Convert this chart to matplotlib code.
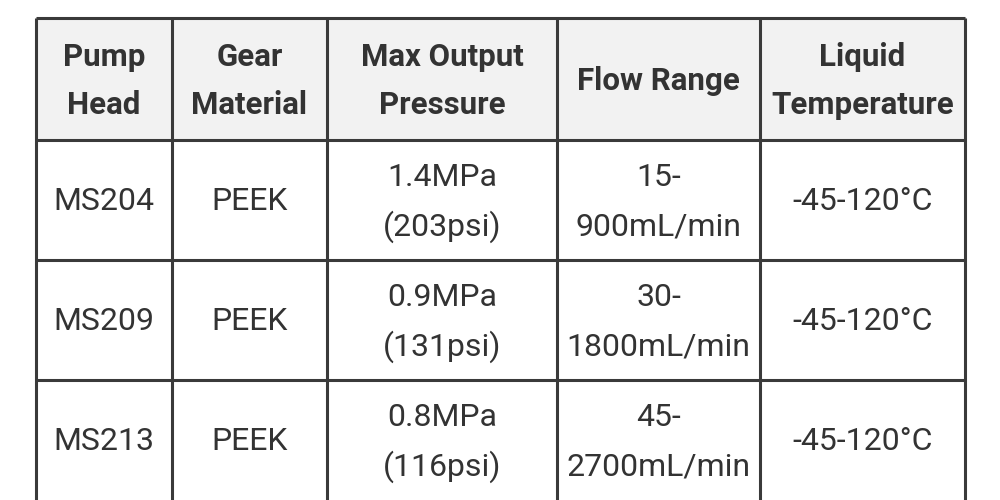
import matplotlib
matplotlib.use("Agg")
import matplotlib.pyplot as plt

headers = [["Pump", "Head"], ["Gear", "Material"], ["Max Output", "Pressure"],
           ["Flow Range"], ["Liquid", "Temperature"]]
pump_heads = ["MS204", "MS209", "MS213"]
gear_material = ["PEEK", "PEEK", "PEEK"]
pressure = [["1.4MPa", "(203psi)"], ["0.9MPa", "(131psi)"], ["0.8MPa", "(116psi)"]]
flow = [["15-", "900mL/min"], ["30-", "1800mL/min"], ["45-", "2700mL/min"]]
temperature = ["-45-120°C", "-45-120°C", "-45-120°C"]

col_edges = [36, 172, 327, 557, 760, 965]
row_edges = [18, 140, 260, 380, 520]
line_gap = 49
border = "#3a3a3a"
text_col = "#333333"

plt.rcParams["font.family"] = ["Roboto", "DejaVu Sans"]
fig = plt.figure(figsize=(10, 5), dpi=100)
ax = fig.add_axes([0, 0, 1, 1])
ax.set_xlim(0, 1000)
ax.set_ylim(500, 0)
ax.axis("off")

ax.add_patch(plt.Rectangle((col_edges[0], row_edges[0]), col_edges[-1] - col_edges[0],
                           row_edges[1] - row_edges[0], color="#f2f2f2", zorder=0))


def cell(ci, ri, lines, bold=False):
    cx = (col_edges[ci] + col_edges[ci + 1]) / 2
    bottom = 500 if ri == 3 else row_edges[ri + 1]
    cy = (row_edges[ri] + bottom) / 2 + 2
    n = len(lines)
    for k, t in enumerate(lines):
        y = cy + (k - (n - 1) / 2) * line_gap
        ax.text(cx, y, t, ha="center", va="center",
                fontsize=22.5 if bold else 23, color=text_col,
                fontweight="bold" if bold else "normal")


for ci, h in enumerate(headers):
    cell(ci, 0, h, bold=True)
for ri in range(3):
    row = [[pump_heads[ri]], [gear_material[ri]], pressure[ri], flow[ri], [temperature[ri]]]
    for ci, lines in enumerate(row):
        cell(ci, ri + 1, lines)

for x in col_edges:
    ax.plot([x, x], [row_edges[0], 500], color=border, lw=2.2, solid_capstyle="butt")
for y in row_edges[:4]:
    ax.plot([col_edges[0], col_edges[-1]], [y, y], color=border, lw=2.2, solid_capstyle="butt")

fig.savefig("out.png", dpi=100)
